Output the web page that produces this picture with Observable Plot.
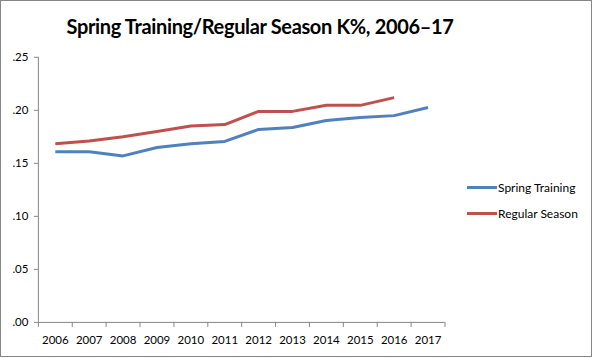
<!DOCTYPE html>
<html>
<head>
<meta charset="utf-8">
<script src="https://cdn.jsdelivr.net/npm/d3@7"></script>
<script src="https://cdn.jsdelivr.net/npm/@observablehq/plot@0.6"></script>
<style>
  html, body { margin: 0; padding: 0; background: #fff; }
  #wrap { position: relative; width: 592px; height: 357px; box-sizing: border-box; border: 1px solid #868686; overflow: hidden; font-family: Lato, "Open Sans", sans-serif; }
  #title { position: absolute; left: 0; top: 13px; width: 518px; text-align: center; font-weight: bold; font-size: 20px; letter-spacing: -0.35px; color: #000; white-space: nowrap; }
  #chart { position: absolute; left: -1px; top: -1px; }
  #legend { position: absolute; left: 466px; top: 173px; font-size: 12px; color: #000; }
  .item { display: flex; align-items: center; height: 26px; }
  .swatch { width: 30px; height: 3px; margin-right: 1px; }
</style>
</head>
<body>
<div id="wrap">
  <div id="chart"></div>
  <div id="title">Spring Training/Regular Season K%, 2006–17</div>
  <div id="legend"></div>
</div>
<script>
const years = [2006, 2007, 2008, 2009, 2010, 2011, 2012, 2013, 2014, 2015, 2016, 2017];
const springTraining = [0.161, 0.161, 0.157, 0.165, 0.1685, 0.1707, 0.182, 0.1838, 0.1904, 0.1932, 0.195, 0.2026];
const regularSeason = [0.1685, 0.171, 0.175, 0.180, 0.1853, 0.1866, 0.199, 0.199, 0.2047, 0.2047, 0.212];
const yTicks = [0, 0.05, 0.10, 0.15, 0.20, 0.25];
const seriesNames = ["Spring Training", "Regular Season"];
const seriesColors = ["#4F81BD", "#C0504D"];

const rows = [];
springTraining.forEach((v, i) => rows.push({year: years[i], value: v, series: seriesNames[0]}));
regularSeason.forEach((v, i) => rows.push({year: years[i], value: v, series: seriesNames[1]}));

const boundaries = years.map(y => y - 0.5).concat([years[years.length - 1] + 0.5]);
const fmt = d => d3.format(".2f")(d).replace(/^0/, "");

const plot = Plot.plot({
  width: 593,
  height: 358,
  marginLeft: 38,
  marginRight: 147,
  marginTop: 57,
  marginBottom: 35,
  style: { fontFamily: "Lato, 'Open Sans', sans-serif", fontSize: "11.5px", color: "#000", background: "transparent" },
  x: { type: "linear", domain: [boundaries[0], boundaries[boundaries.length - 1]] },
  y: { domain: [0, 0.25] },
  color: { domain: seriesNames, range: seriesColors },
  marks: [
    Plot.ruleX([boundaries[0]], { stroke: "#868686", strokeWidth: 1 }),
    Plot.ruleY([0], { stroke: "#868686", strokeWidth: 1 }),
    Plot.axisY({ ticks: yTicks, tickFormat: fmt, tickSize: 4, tickPadding: 6, stroke: "#868686", label: null, fill: "#000" }),
    Plot.axisX({ ticks: boundaries, tickFormat: () => "", tickSize: 5, stroke: "#868686", label: null }),
    Plot.axisX({ ticks: years, tickFormat: d => String(d), tickSize: 0, tickPadding: 14, label: null, fill: "#000" }),
    Plot.line(rows, { x: "year", y: "value", z: "series", stroke: "series", strokeWidth: 3, strokeLinejoin: "round", strokeLinecap: "butt" })
  ]
});
document.getElementById("chart").appendChild(plot);

const legend = document.getElementById("legend");
seriesNames.forEach((name, i) => {
  const item = document.createElement("div");
  item.className = "item";
  const sw = document.createElement("span");
  sw.className = "swatch";
  sw.style.background = seriesColors[i];
  const lab = document.createElement("span");
  lab.textContent = name;
  item.appendChild(sw);
  item.appendChild(lab);
  legend.appendChild(item);
});
</script>
</body>
</html>
